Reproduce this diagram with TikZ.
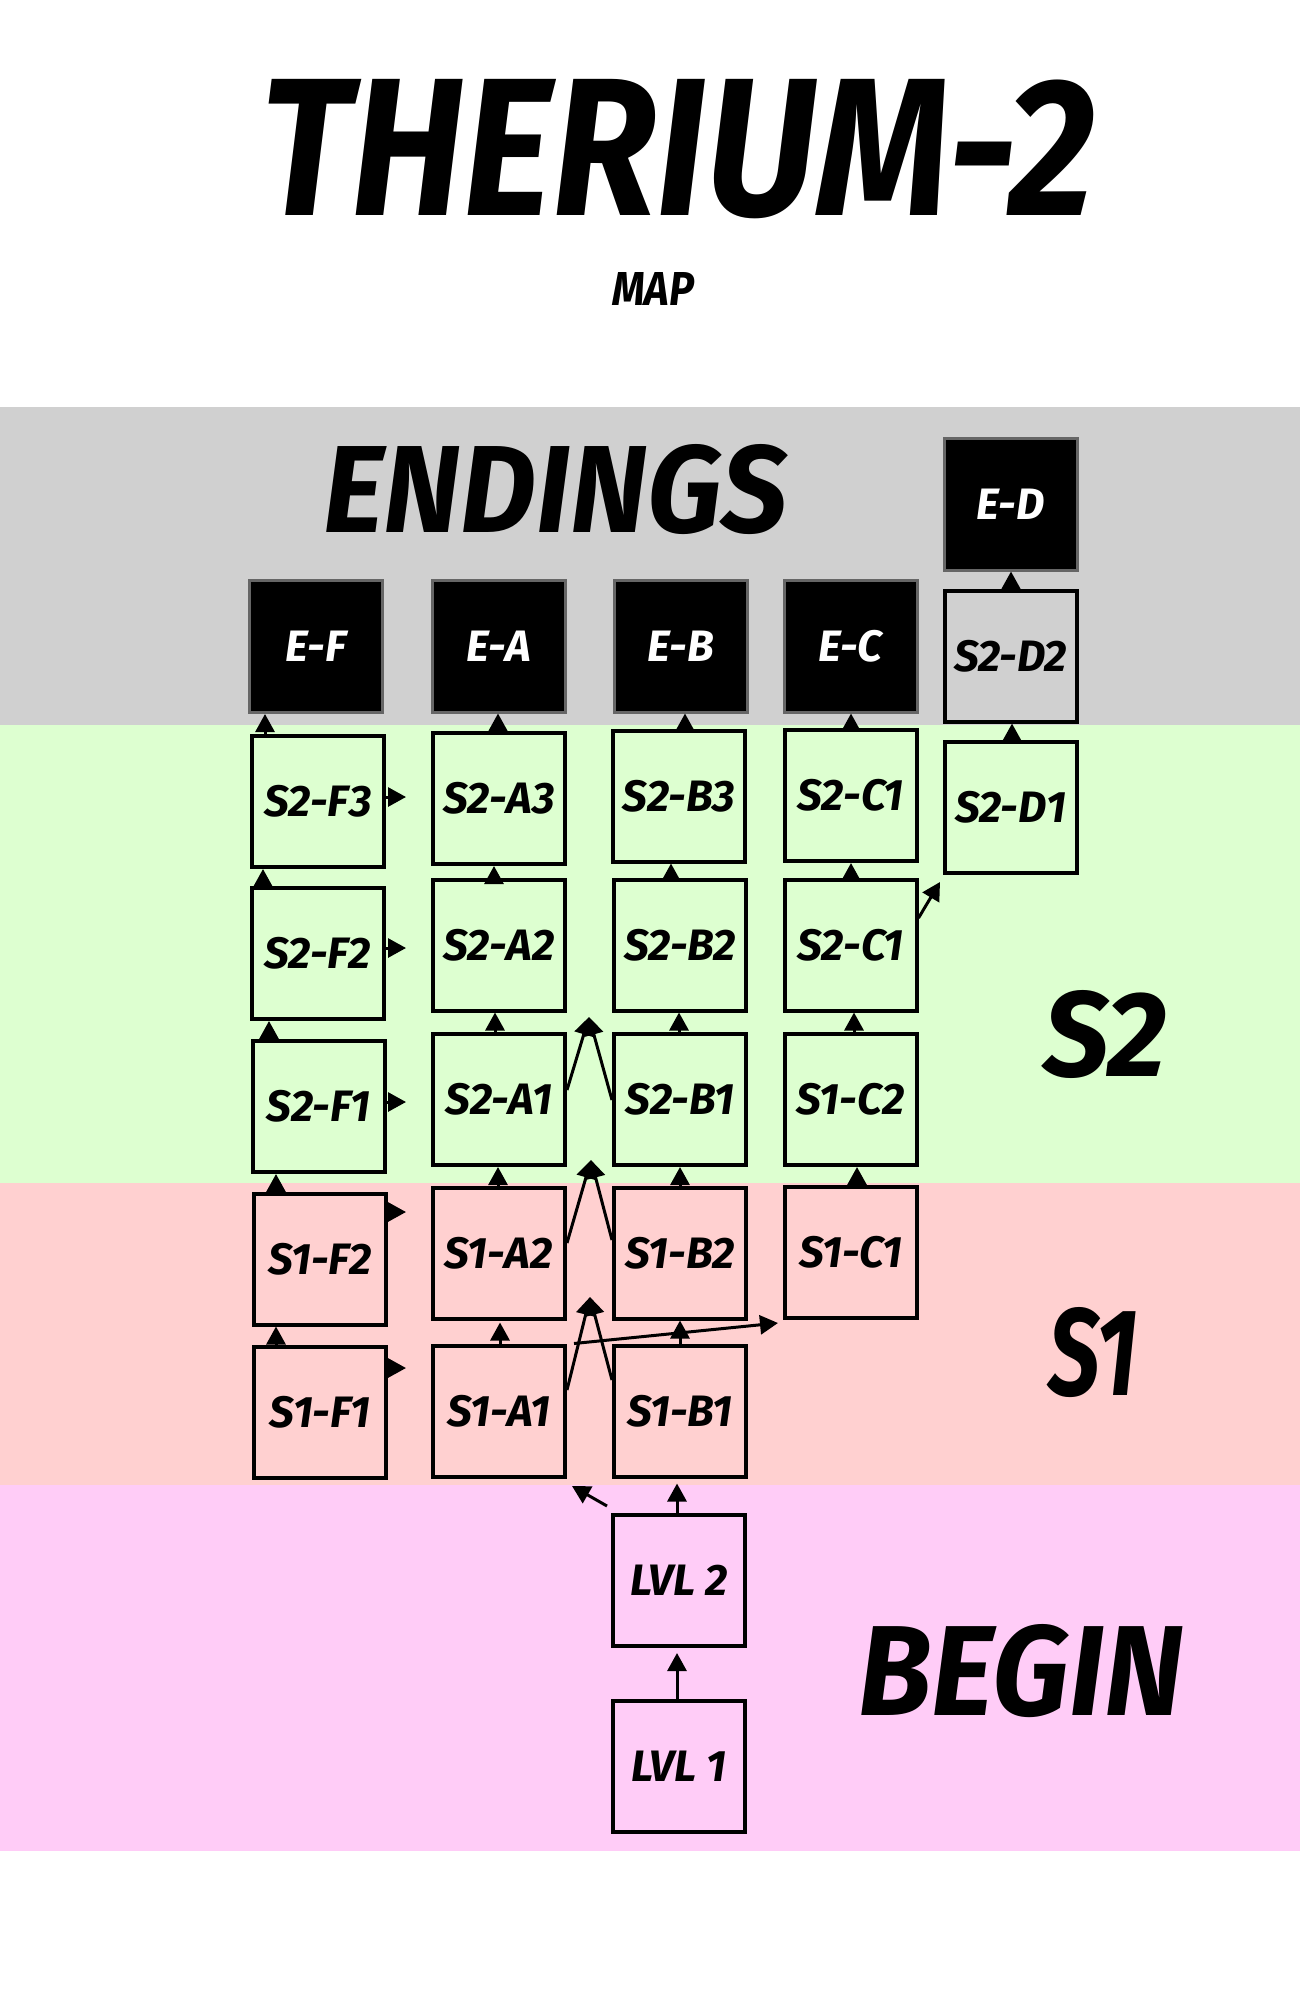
\documentclass[tikz,border=0pt]{standalone}
\usepackage{fontspec}
\setmainfont{Fira Sans}
\usepackage{graphicx}
\usetikzlibrary{arrows.meta}
\definecolor{bandgray}{HTML}{D0D0D0}
\definecolor{bandgreen}{HTML}{DDFFD0}
\definecolor{bandpink}{HTML}{FFD0D0}
\definecolor{bandmag}{HTML}{FFCCF7}
\definecolor{endborder}{HTML}{666666}
\newcommand\lbl{\fontsize{44}{44}\selectfont\bfseries\itshape}
\newcommand\fitbox[3]{\resizebox{#1pt}{#2pt}{\bfseries\itshape #3}}
\tikzset{
  box/.style={draw=black, line width=4pt, inner sep=0pt, minimum width=132pt, minimum height=131pt, font=\lbl},
  endbox/.style={draw=endborder, fill=black, line width=3pt, text=white, inner sep=0pt, minimum width=133pt, minimum height=132pt, font=\lbl},
  arr/.style={line width=3pt, -{Triangle[width=19pt,length=18pt]}},
  bigtext/.style={inner sep=0pt, anchor=north west},
}
\begin{document}
\begin{tikzpicture}[x=1pt,y=-1pt]
\useasboundingbox (0,0) rectangle (1300,2000);
\fill[white] (0,0) rectangle (1300,2000);
\fill[bandgray] (0,407) rectangle (1300,725);
\fill[bandgreen] (0,725) rectangle (1300,1183);
\fill[bandpink] (0,1183) rectangle (1300,1485);
\fill[bandmag] (0,1485) rectangle (1300,1851);

% big texts
\node[bigtext] (title) at (260,79) {\fitbox{835}{136}{THERIUM-2}};
\node[bigtext] (map) at (612,272) {\fitbox{82}{33}{MAP}};
\node[bigtext] (endings) at (323,444) {\fitbox{464}{88}{ENDINGS}};
\node[bigtext] (lbls2) at (1043,990) {\fitbox{124}{86}{S2}};
\node[bigtext] (lbls1) at (1048,1307) {\fitbox{90}{88}{S1}};
\node[bigtext] (lblbegin) at (858,1624) {\fitbox{325}{91}{BEGIN}};

% ending boxes
\node[endbox] (ef) at (316,646.5) {E-F};
\node[endbox] (ea) at (499,646) {E-A};
\node[endbox] (eb) at (681,646) {E-B};
\node[endbox] (ec) at (850.5,646) {E-C};
\node[endbox] (ed) at (1010.5,504) {E-D};

% S2 boxes
\node[box] (s2d2) at (1010.5,656) {S2-D2};
\node[box] (s2f3) at (318,801.5) {S2-F3};
\node[box] (s2a3) at (499,798.5) {S2-A3};
\node[box] (s2b3) at (679,796) {S2-B3};
\node[box] (s2c1a) at (850.5,795.5) {S2-C1};
\node[box] (s2d1) at (1010.5,807.5) {S2-D1};
\node[box] (s2f2) at (317.5,953.5) {S2-F2};
\node[box] (s2a2) at (499,945) {S2-A2};
\node[box] (s2b2) at (680,945) {S2-B2};
\node[box] (s2c1b) at (850.5,945) {S2-C1};
\node[box] (s2f1) at (318.5,1106.5) {S2-F1};
\node[box] (s2a1) at (499,1099.5) {S2-A1};
\node[box] (s2b1) at (680,1099.5) {S2-B1};
\node[box] (s1c2) at (850.5,1099.5) {S1-C2};

% S1 boxes
\node[box] (s1f2) at (320,1259) {S1-F2};
\node[box] (s1a2) at (499,1253) {S1-A2};
\node[box] (s1b2) at (680,1253) {S1-B2};
\node[box] (s1c1) at (850.5,1252.5) {S1-C1};
\node[box] (s1f1) at (320,1412) {S1-F1};
\node[box] (s1a1) at (499,1411) {S1-A1};
\node[box] (s1b1) at (680,1411) {S1-B1};

% begin boxes
\node[box] (lvl2) at (679,1580.5) {LVL 2};
\node[box] (lvl1) at (679,1766.5) {LVL 1};

% free-end coordinates
\coordinate (apx2) at (589,1017);
\coordinate (apx1b) at (591,1160);
\coordinate (apx1a) at (590,1297);
\coordinate (longend) at (778,1323);
\coordinate (cdend) at (940,882);
\coordinate (l2aend) at (572,1486);

% vertical arrows, F column
\draw[arr] ([xshift=-53pt]s2f3.north) -- ([xshift=-53pt]s2f3.north |- ef.south);
\draw[arr] ([xshift=-54.5pt]s2f2.north) -- ([xshift=-54.5pt]s2f2.north |- s2f3.south);
\draw[arr] ([xshift=-49.5pt]s2f1.north) -- ([xshift=-49.5pt]s2f1.north |- s2f2.south);
\draw[arr] ([xshift=-44pt]s1f2.north) -- ([xshift=-44pt]s1f2.north |- s2f1.south);
\draw[arr] ([xshift=-44pt]s1f1.north) -- ([xshift=-44pt]s1f1.north |- s1f2.south);

% vertical arrows, A column
\draw[arr] ([xshift=-1pt]s2a3.north) -- ([xshift=-1pt]s2a3.north |- ea.south);
\draw[arr] ([xshift=-5pt]s2a2.north) -- ([xshift=-5pt]s2a2.north |- s2a3.south);
\draw[arr] ([xshift=-4pt]s2a1.north) -- ([xshift=-4pt]s2a1.north |- s2a2.south);
\draw[arr] ([xshift=-1pt]s1a2.north) -- ([xshift=-1pt]s1a2.north |- s2a1.south);
\draw[arr, shorten >=2pt] ([xshift=1pt]s1a1.north) -- ([xshift=1pt]s1a1.north |- s1a2.south);

% vertical arrows, B column
\draw[arr] ([xshift=6pt]s2b3.north) -- ([xshift=6pt]s2b3.north |- eb.south);
\draw[arr] ([xshift=-9pt]s2b2.north) -- ([xshift=-9pt]s2b2.north |- s2b3.south);
\draw[arr] ([xshift=-1pt]s2b1.north) -- ([xshift=-1pt]s2b1.north |- s2b2.south);
\draw[arr] (s1b2.north) -- (s2b1.south);
\draw[arr] (s1b1.north) -- (s1b2.south);

% vertical arrows, C and D columns
\draw[arr] ([xshift=0.5pt]s2c1a.north) -- ([xshift=0.5pt]s2c1a.north |- ec.south);
\draw[arr] ([xshift=0.5pt]s2c1b.north) -- ([xshift=0.5pt]s2c1b.north |- s2c1a.south);
\draw[arr] ([xshift=3.5pt]s1c2.north) -- ([xshift=3.5pt]s1c2.north |- s2c1b.south);
\draw[arr] ([xshift=6.5pt]s1c1.north) -- ([xshift=6.5pt]s1c1.north |- s1c2.south);
\draw[arr] ([xshift=0.5pt]s2d2.north) -- ([xshift=0.5pt]s2d2.north |- ed.south);
\draw[arr] ([xshift=1.5pt]s2d1.north) -- ([xshift=1.5pt]s2d1.north |- s2d2.south);
\draw[arr] ([yshift=27pt]s2c1b.east) -- (cdend);

% right-pointing arrows from F column
\draw[arr] ([yshift=4.5pt]s2f3.east) -- ++(20,0);
\draw[arr] ([yshift=5.5pt]s2f2.east) -- ++(20.5,0);
\draw[arr] ([yshift=4.5pt]s2f1.east) -- ++(19.5,0);
\draw[arr] ([yshift=47pt]s1f2.east) -- ++(18,0);
\draw[arr] ([yshift=44pt]s1f1.east) -- ++(18,0);

% converging arrows between A and B columns
\draw[arr] ([yshift=9.5pt]s2a1.east) -- (apx2);
\draw[arr] ([yshift=-0.5pt]s2b1.west) -- (apx2);
\draw[arr] ([yshift=10pt]s1a2.east) -- (apx1b);
\draw[arr] ([yshift=13pt]s1b2.west) -- (apx1b);
\draw[arr] ([yshift=21pt]s1a1.east) -- (apx1a);
\draw[arr] ([yshift=31pt]s1b1.west) -- (apx1a);
\draw[arr] ([xshift=7pt]s1a1.north east) -- (longend);

% begin arrows
\draw[arr, shorten >=5pt] ([xshift=-2pt]lvl2.north) -- ([xshift=-2pt]lvl2.north |- s1b1.south);
\draw[arr] ([shift={(-4pt,7pt)}]lvl2.north west) -- (l2aend);
\draw[arr, shorten >=5pt] ([xshift=-2pt]lvl1.north) -- ([xshift=-2pt]lvl1.north |- lvl2.south);
\end{tikzpicture}
\end{document}
